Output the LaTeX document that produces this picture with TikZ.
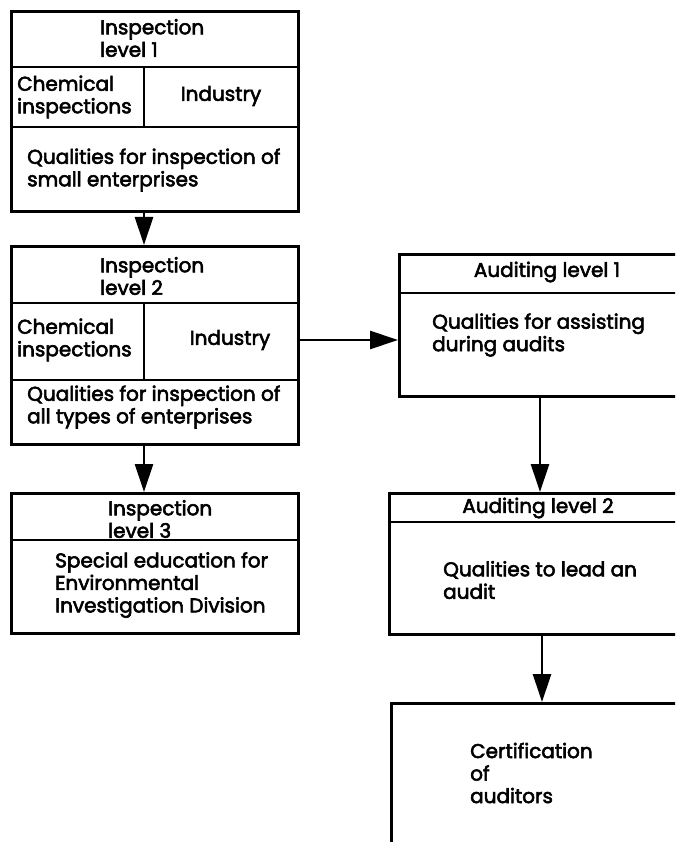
\documentclass[tikz,border=0pt]{standalone}
\usepackage{fontspec}
\setmainfont{Poppins}[FakeBold=2.8]
\usetikzlibrary{arrows.meta}
\begin{document}
\begin{tikzpicture}[x=1pt,y=-1pt,
  frame/.style={draw,line width=2.8pt,rectangle,anchor=north west,inner sep=0pt},
  sep/.style={line width=2.8pt},
  arr/.style={line width=2.7pt,-{Triangle[length=28pt,width=18pt]}},
  txt/.style={anchor=west,align=left,inner sep=0pt,font=\fontsize{20}{22.5}\selectfont},
  ctxt/.style={anchor=center,align=center,inner sep=0pt,font=\fontsize{20}{22.5}\selectfont}]
\clip (0,0) rectangle (675,842);
\fill[white] (0,0) rectangle (675,842);
% boxes
\node[frame,minimum width=287pt,minimum height=200pt] (b1) at (10,10) {};
\node[frame,minimum width=287pt,minimum height=198pt] (b2) at (10,245) {};
\node[frame,minimum width=287pt,minimum height=140pt] (b3) at (10,492) {};
\node[frame,minimum width=300pt,minimum height=142pt] (a1) at (398,253) {};
\node[frame,minimum width=310pt,minimum height=141pt] (a2) at (388,492) {};
\node[frame,minimum width=310pt,minimum height=170pt] (c1) at (390,702) {};
% separators
\draw[sep] (b1.west |- 0,67) -- (b1.east |- 0,67);
\draw[sep] (b1.west |- 0,127) -- (b1.east |- 0,127);
\draw[sep] (144,67) -- (144,127);
\draw[sep] (b2.west |- 0,303) -- (b2.east |- 0,303);
\draw[sep] (b2.west |- 0,380) -- (b2.east |- 0,380);
\draw[sep] (144,303) -- (144,380);
\draw[sep] (b3.west |- 0,540) -- (b3.east |- 0,540);
\draw[sep] (a1.west |- 0,293) -- (a1.east |- 0,293);
\draw[sep] (a2.west |- 0,522) -- (a2.east |- 0,522);
% texts box 1
\node[txt] (t1) at (100,38) {Inspection\\level 1};
\node[txt] (t2) at (17,97) {Chemical\\inspections};
\node[ctxt] (t3) at (221,96) {Industry};
\node[txt] (t4) at (27,170) {Qualities for inspection of\\small enterprises};
% box 2
\node[txt] (t5) at (100,276) {Inspection\\level 2};
\node[txt] (t6) at (17,340) {Chemical\\inspections};
\node[ctxt] (t7) at (230,340) {Industry};
\node[txt] (t8) at (27,407) {Qualities for inspection of\\all types of enterprises};
% box 3
\node[txt] (t9) at (108,519) {Inspection\\level 3};
\node[txt] (t10) at (55,585) {Special education for\\Environmental\\Investigation Division};
% auditing
\node[ctxt] (t11) at (547,272) {Auditing level 1};
\node[txt] (t12) at (432,335) {Qualities for assisting\\during audits};
\node[ctxt] (t13) at (538,508) {Auditing level 2};
\node[txt] (t14) at (443,580) {Qualities to lead an\\audit};
\node[txt] (t15) at (470,773) {Certification\\of\\auditors};
% arrows
\draw[arr] (b1.south -| 144,0) -- (b2.north -| 144,0);
\draw[arr] (b2.south -| 144,0) -- (b3.north -| 144,0);
\draw[arr] (b2.east |- 0,340) -- (a1.west |- 0,340);
\draw[arr] (a1.south -| 540,0) -- (a2.north -| 540,0);
\draw[arr] (a2.south -| 542,0) -- (c1.north -| 542,0);
\end{tikzpicture}
\end{document}
